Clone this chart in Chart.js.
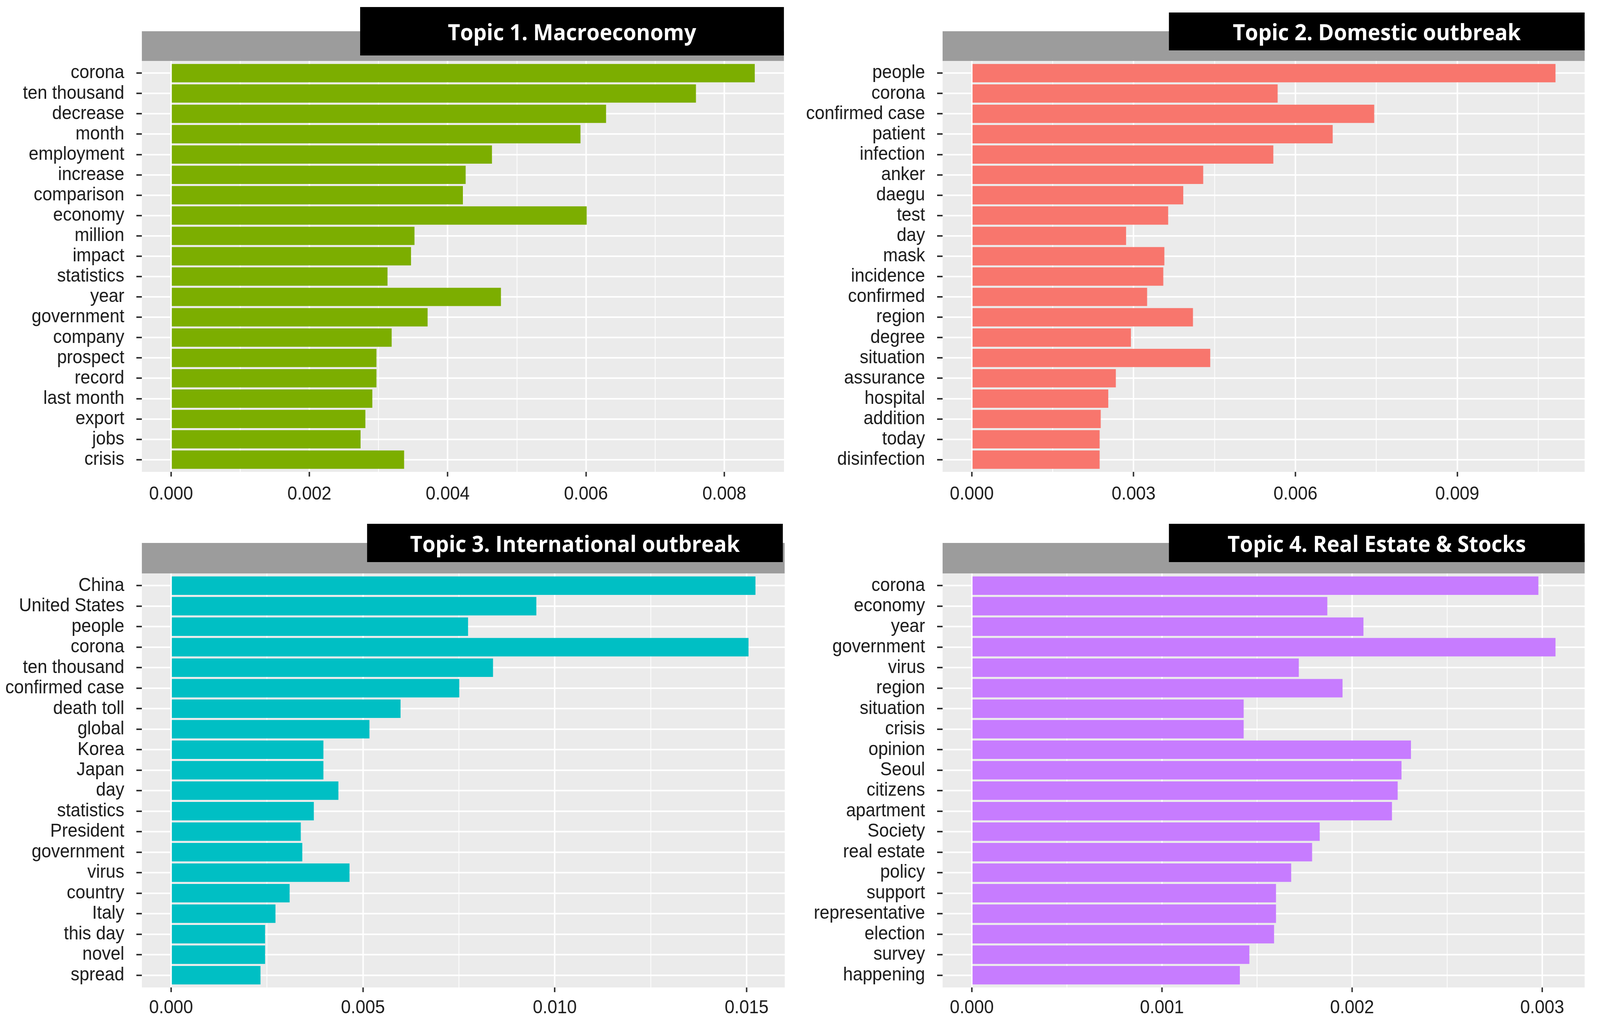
<!DOCTYPE html>
<html><head><meta charset="utf-8">
<script src="https://cdn.jsdelivr.net/npm/chart.js@4.4.0/dist/chart.umd.min.js"></script>
<style>
html,body{margin:0;padding:0;background:#fff;overflow:hidden;}
#root{position:absolute;left:0;top:0;width:4376px;height:2619px;overflow:hidden;background:#fff;transform-origin:0 0;}
.strip{position:absolute;background:#9c9c9c;}
.title{position:absolute;background:#000;color:#fff;font-family:'Open Sans';font-weight:700;display:flex;align-items:center;justify-content:center;white-space:nowrap;}
.wrap{position:absolute;}
</style></head><body><div id="root"></div>
<script>
// ---------- DATA ----------
const topic1Terms = ["corona","ten thousand","decrease","month","employment","increase","comparison","economy","million","impact","statistics","year","government","company","prospect","record","last month","export","jobs","crisis"];
const topic1Values = [0.00844,0.00759,0.00629,0.00592,0.00464,0.00426,0.00422,0.00601,0.00352,0.00347,0.00313,0.00477,0.00371,0.00319,0.00297,0.00297,0.00291,0.00281,0.00274,0.00337];

const topic2Terms = ["people","corona","confirmed case","patient","infection","anker","daegu","test","day","mask","incidence","confirmed","region","degree","situation","assurance","hospital","addition","today","disinfection"];
const topic2Values = [0.01082,0.00567,0.00746,0.00669,0.00559,0.00429,0.00392,0.00364,0.00286,0.00357,0.00355,0.00325,0.00410,0.00295,0.00442,0.00267,0.00253,0.00239,0.00237,0.00237];

const topic3Terms = ["China","United States","people","corona","ten thousand","confirmed case","death toll","global","Korea","Japan","day","statistics","President","government","virus","country","Italy","this day","novel","spread"];
const topic3Values = [0.01523,0.00952,0.00774,0.01505,0.00839,0.00751,0.00598,0.00517,0.00397,0.00397,0.00436,0.00372,0.00338,0.00342,0.00465,0.00309,0.00272,0.00245,0.00245,0.00233];

const topic4Terms = ["corona","economy","year","government","virus","region","situation","crisis","opinion","Seoul","citizens","apartment","Society","real estate","policy","support","representative","election","survey","happening"];
const topic4Values = [0.00298,0.00187,0.00206,0.00307,0.00172,0.00195,0.00143,0.00143,0.00231,0.00226,0.00224,0.00221,0.00183,0.00179,0.00168,0.00160,0.00160,0.00159,0.00146,0.00141];

const panelTitles = ["Topic 1. Macroeconomy","Topic 2. Domestic outbreak","Topic 3. International outbreak","Topic 4. Real Estate & Stocks"];
const majorSteps = [0.002, 0.003, 0.005, 0.001];

// ---------- STYLE / LAYOUT ----------
const DESIGN_W = 4376, DESIGN_H = 2619;
const panelColors = ["#7CAE00","#F8766D","#00BFC4","#C77CFF"];
const layouts = [
  {left:0,    panelLeft:388,  panelRight:2144, panelTop:156,  panelBottom:1208, stripTop:80,   labelPad:17, box:{l:985, t:18,  r:2144, b:142}},
  {left:2190, panelLeft:2578, panelRight:4334, panelTop:156,  panelBottom:1208, stripTop:80,   labelPad:17, box:{l:3197,t:32,  r:4334, b:129}},
  {left:0,    panelLeft:388,  panelRight:2146, panelTop:1468, panelBottom:2528, stripTop:1390, labelPad:12, box:{l:1004,t:1341,r:2141, b:1439}},
  {left:2190, panelLeft:2578, panelRight:4334, panelTop:1468, panelBottom:2528, stripTop:1390, labelPad:12, box:{l:3197,t:1341,r:4334, b:1439}}
];
const AXIS_H = 86;
const FONT = {family:"'Liberation Sans', Arial, sans-serif", size:48};
const TEXT_COLOR = "#1a1a1a";

const panels = [
  {terms: topic1Terms, values: topic1Values},
  {terms: topic2Terms, values: topic2Values},
  {terms: topic3Terms, values: topic3Values},
  {terms: topic4Terms, values: topic4Values}
];

const root = document.getElementById('root');
const vw = window.innerWidth || DESIGN_W, vh = window.innerHeight || DESIGN_H;
const SX = vw / DESIGN_W, SY = vh / DESIGN_H;
root.style.transform = 'scale(' + SX + ',' + SY + ')';
const DPR = (window.devicePixelRatio || 1) * Math.max(SX, SY);

panels.forEach((p, k) => {
  const L = layouts[k];
  const strip = document.createElement('div');
  strip.className = 'strip';
  Object.assign(strip.style, {left:L.panelLeft+'px', top:L.stripTop+'px', width:(L.panelRight-L.panelLeft)+'px', height:(L.panelTop-L.stripTop)+'px'});
  root.appendChild(strip);

  const wrap = document.createElement('div');
  wrap.className = 'wrap';
  const W = L.panelRight - L.left;
  const H = (L.panelBottom - L.panelTop) + AXIS_H;
  Object.assign(wrap.style, {left:L.left+'px', top:L.panelTop+'px', width:W+'px', height:H+'px'});
  const cv = document.createElement('canvas');
  cv.style.width = W+'px'; cv.style.height = H+'px';
  wrap.appendChild(cv);
  root.appendChild(wrap);

  const t = document.createElement('div');
  t.className = 'title';
  t.textContent = panelTitles[k];
  Object.assign(t.style, {left:L.box.l+'px', top:L.box.t+'px', width:(L.box.r-L.box.l)+'px', height:(L.box.b-L.box.t)+'px', fontSize:'58px'});
  root.appendChild(t);

  const maxV = Math.max(...p.values);
  const major = majorSteps[k];
  const isMajor = v => Math.abs(v/major - Math.round(v/major)) < 1e-6;
  const n = p.terms.length;

  new Chart(cv, {
    type: 'bar',
    data: {
      datasets: [{
        data: p.values.map((v, i) => ({x: v, y: i})),
        backgroundColor: panelColors[k],
        borderWidth: 0,
        categoryPercentage: 1,
        barPercentage: 0.9
      }]
    },
    options: {
      indexAxis: 'y',
      responsive: false,
      maintainAspectRatio: false,
      devicePixelRatio: DPR,
      animation: false,
      layout: {padding: 0},
      plugins: {
        legend: {display: false},
        tooltip: {enabled: false},
        chartBg: {color: '#EBEBEB'}
      },
      scales: {
        x: {
          type: 'linear',
          position: 'bottom',
          offset: false,
          min: -0.05 * maxV,
          max: 1.05 * maxV,
          border: {display: false},
          grid: {
            offset: false,
            color: '#ffffff',
            lineWidth: ctx => (ctx.tick && isMajor(ctx.tick.value)) ? 4 : 2,
            drawTicks: true,
            tickLength: 12,
            tickWidth: 4,
            tickColor: ctx => (ctx.tick && isMajor(ctx.tick.value)) ? '#333333' : 'rgba(0,0,0,0)'
          },
          ticks: {
            stepSize: major / 2,
            includeBounds: false,
            autoSkip: false,
            maxRotation: 0,
            minRotation: 0,
            padding: L.labelPad,
            color: TEXT_COLOR,
            font: FONT,
            callback: v => isMajor(v) ? Number(v).toFixed(3) : ''
          },
          afterFit: s => { s.height = AXIS_H; s.paddingLeft = 0; s.paddingRight = 0; }
        },
        y: {
          type: 'linear',
          offset: false,
          min: -0.6,
          max: n - 0.4,
          reverse: true,
          border: {display: false},
          grid: {
            offset: false,
            color: '#ffffff',
            lineWidth: 4,
            drawTicks: true,
            tickLength: 15,
            tickWidth: 4,
            tickColor: '#333333'
          },
          ticks: {
            stepSize: 1,
            includeBounds: false,
            autoSkip: false,
            padding: 33,
            color: TEXT_COLOR,
            font: FONT,
            callback: v => Number.isInteger(v) && v >= 0 && v < n ? p.terms[v] : ''
          },
          afterFit: s => { s.width = L.panelLeft - L.left; s.paddingTop = 0; s.paddingBottom = 0; }
        }
      }
    },
    plugins: [{
      id: 'chartBg',
      beforeDraw(chart, args, opts) {
        const {ctx, chartArea} = chart;
        ctx.save();
        ctx.fillStyle = opts.color || '#EBEBEB';
        ctx.fillRect(chartArea.left, chartArea.top, chartArea.right - chartArea.left, chartArea.bottom - chartArea.top);
        ctx.restore();
      }
    }]
  });
});
</script>
</body></html>
